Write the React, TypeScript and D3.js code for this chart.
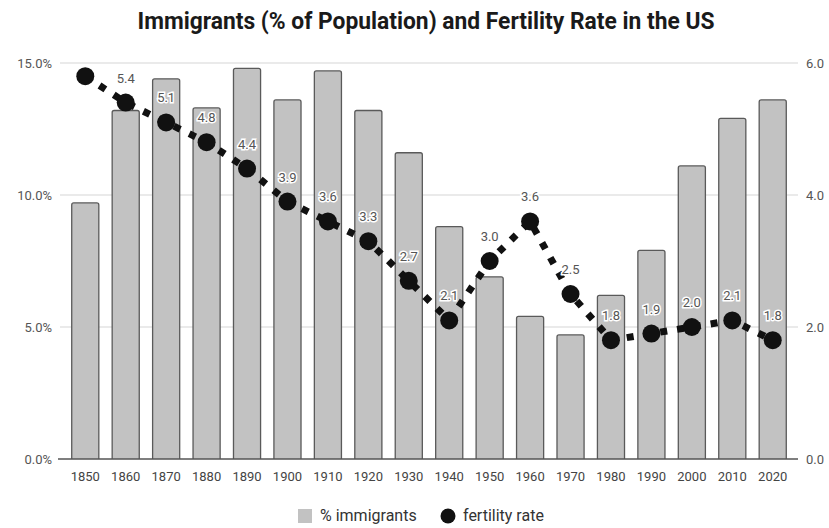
import React from "react";
import { scaleBand, scaleLinear, line } from "d3";

const years = ["1850", "1860", "1870", "1880", "1890", "1900", "1910", "1920", "1930", "1940", "1950", "1960", "1970", "1980", "1990", "2000", "2010", "2020"];
const immigrants = [9.7, 13.2, 14.4, 13.3, 14.8, 13.6, 14.7, 13.2, 11.6, 8.8, 6.9, 5.4, 4.7, 6.2, 7.9, 11.1, 12.9, 13.6];
const fertility = [5.8, 5.4, 5.1, 4.8, 4.4, 3.9, 3.6, 3.3, 2.7, 2.1, 3.0, 3.6, 2.5, 1.8, 1.9, 2.0, 2.1, 1.8];
const showLabel = [false, true, true, true, true, true, true, true, true, true, true, true, true, true, true, true, true, true];
const leftTicks = [0, 5, 10, 15];
const rightTicks = [0, 2, 4, 6];

const W = 829;
const H = 528;
const plot = { left: 60, right: 798, top: 63, bottom: 459 };
const font = "Roboto, 'Liberation Sans', Arial, sans-serif";

export default function App() {
  const x = scaleBand<string>()
    .domain(years)
    .range([plot.left, plot.right])
    .paddingInner(0.33)
    .paddingOuter(0.29);
  const yL = scaleLinear().domain([0, 15]).range([plot.bottom, plot.top]);
  const yR = scaleLinear().domain([0, 6]).range([plot.bottom, plot.top]);
  const cx = (y: string) => (x(y) ?? 0) + x.bandwidth() / 2;

  const pts = years.map((y, i) => [cx(y), yR(fertility[i])] as [number, number]);
  const path = line()(pts) ?? "";

  return (
    <svg width={W} height={H} style={{ position: "absolute", left: 0, top: 0, background: "#fff" }} fontFamily={font}>
      <text x={426} y={29} textAnchor="middle" fontSize={23} fontWeight={700} fill="#1a1a1a" textLength={577} lengthAdjust="spacingAndGlyphs">
        Immigrants (% of Population) and Fertility Rate in the US
      </text>

      {leftTicks.map((t) => (
        <g key={"g" + t}>
          {t !== 0 && (
            <line x1={plot.left} x2={plot.right} y1={yL(t)} y2={yL(t)} stroke="#e3e3e3" strokeWidth={1.5} />
          )}
          <text x={52} y={yL(t) + 4.5} textAnchor="end" fontSize={13} fill="#555">
            {t.toFixed(1) + "%"}
          </text>
        </g>
      ))}
      {rightTicks.map((t) => (
        <text key={"r" + t} x={806} y={yR(t) + 4.5} textAnchor="start" fontSize={13} fill="#555">
          {t.toFixed(1)}
        </text>
      ))}

      {years.map((y, i) => {
        const top = yL(immigrants[i]);
        const x0 = x(y) ?? 0;
        const x1 = x0 + x.bandwidth();
        return (
          <path
            key={"b" + y}
            d={`M${x0},${plot.bottom} V${top + 2} Q${x0},${top} ${x0 + 2},${top} H${x1 - 2} Q${x1},${top} ${x1},${top + 2} V${plot.bottom}`}
            fill="#c2c2c2"
            stroke="#5a5a5a"
            strokeWidth={1.3}
          />
        );
      })}
      <line x1={58} x2={plot.right} y1={plot.bottom} y2={plot.bottom} stroke="#555" strokeWidth={1.5} />

      <path d={path} fill="none" stroke="#111" strokeWidth={7} strokeDasharray="7 10" />
      {pts.map((p, i) => (
        <circle key={"c" + i} cx={p[0]} cy={p[1]} r={9} fill="#111" />
      ))}
      {pts.map((p, i) =>
        showLabel[i] ? (
          <text
            key={"l" + i}
            x={p[0]}
            y={p[1] - 20}
            textAnchor="middle"
            fontSize={13}
            fill="#555"
            stroke="#fff"
            strokeWidth={3}
            paintOrder="stroke"
          >
            {fertility[i].toFixed(1)}
          </text>
        ) : null
      )}

      {years.map((y) => (
        <text key={"x" + y} x={cx(y)} y={481} textAnchor="middle" fontSize={13} fill="#444">
          {y}
        </text>
      ))}

      <rect x={298} y={509} width={14} height={14} fill="#c2c2c2" />
      <text x={320} y={521} fontSize={16} fill="#333">% immigrants</text>
      <circle cx={448} cy={516} r={7.5} fill="#111" />
      <text x={463} y={521} fontSize={16} fill="#333">fertility rate</text>
    </svg>
  );
}
